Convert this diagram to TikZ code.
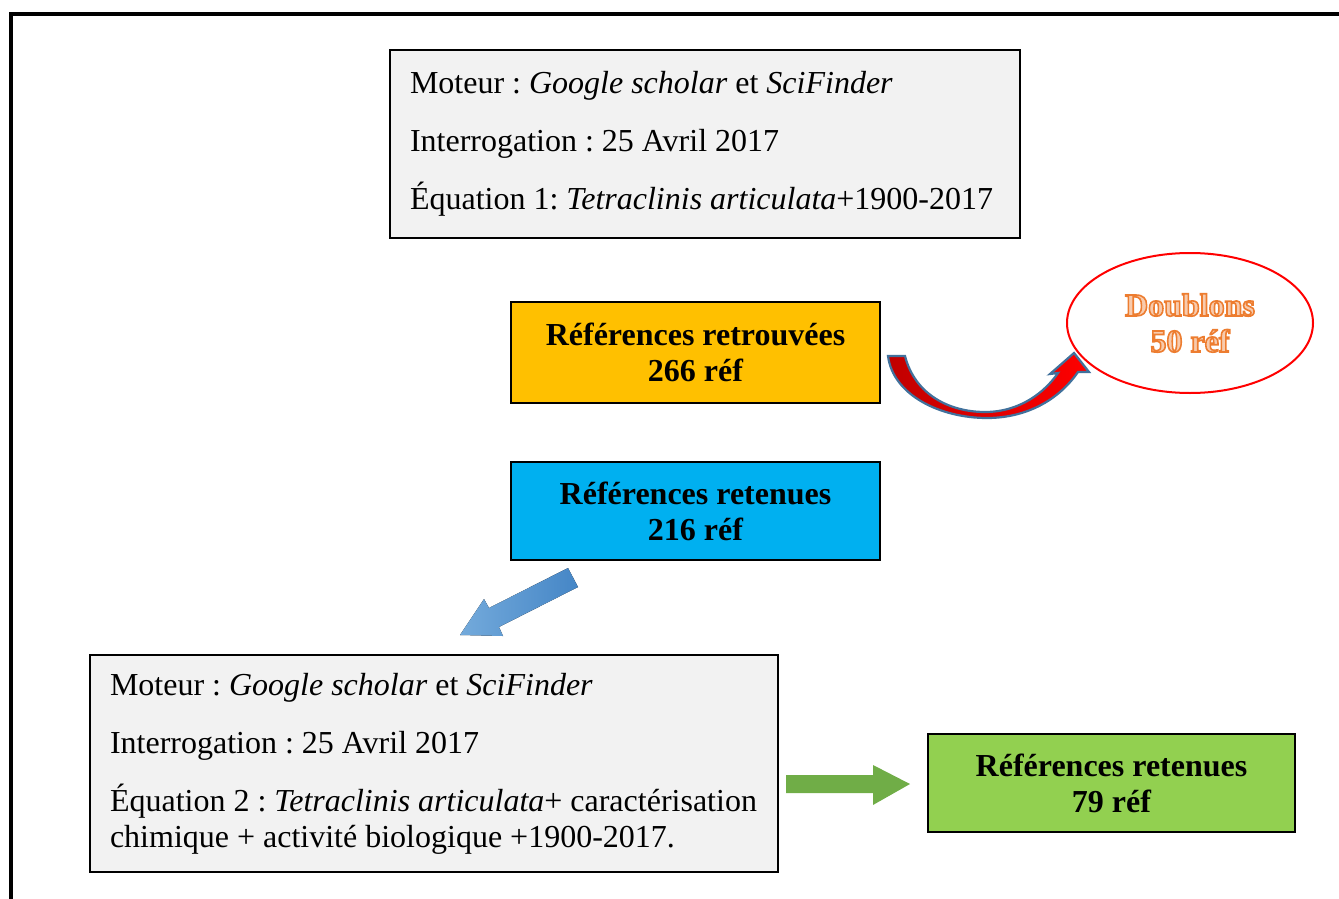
\documentclass[tikz,border=0pt]{standalone}
\usepackage{fontspec}
\setmainfont{Liberation Serif}
\usepackage{tikz}
\usetikzlibrary{shapes.geometric}

\definecolor{boxgray}{HTML}{F2F2F2}
\definecolor{refyellow}{HTML}{FFC000}
\definecolor{refblue}{HTML}{00B0F0}
\definecolor{refgreen}{HTML}{92D050}
\definecolor{arrowgreen}{HTML}{70AD47}
\definecolor{arrowblue}{HTML}{5B9BD5}
\definecolor{arrowblue2}{HTML}{4586C6}
\definecolor{arrowedge}{HTML}{41719C}
\definecolor{darkred}{HTML}{C00000}
\definecolor{doubfill}{HTML}{F8CBAD}

% texte en contour (orange)
\newcommand{\outlinetext}[1]{\color{doubfill}\special{pdf:literal direct 0.93 0.49 0.19 RG 1.6 w 2 Tr}#1\special{pdf:literal direct 0 Tr}}

\begin{document}
\begin{tikzpicture}[x=1pt,y=-1pt,
		every node/.style={font=\fontsize{32}{36}\selectfont, execute at begin node=\frenchspacing},
		infobox/.style={draw,line width=1.5pt,fill=boxgray,align=flush left,inner xsep=20pt,inner ysep=0pt},
		refbox/.style={draw,line width=1.5pt,align=center,inner sep=0pt,font=\fontsize{32}{36}\selectfont\bfseries}]
		\useasboundingbox (0,0) rectangle (1339,899);
		% cadre
		\draw [line width=4pt] (11,899) -- (11,14) -- (1339,14);
		% Equation 1
		\node [infobox, text width=590pt, minimum height=188pt] (eq1) at (705,144)
			{Moteur : \textit{Google scholar} et \textit{SciFinder}\\[22pt]
			Interrogation : 25 Avril 2017\\[22pt]
			\mbox{Équation 1: \textit{Tetraclinis articulata}+1900-2017}};
		% References
		\node [refbox, fill=refyellow, minimum width=369pt, minimum height=101pt] (trouv) at (695.5,352.5)
			{Références retrouvées\\266 réf};
		\node [refbox, fill=refblue, minimum width=369pt, minimum height=98pt] (ret1) at (695.5,511)
			{Références retenues\\216 réf};
		% Doublons
		\node [ellipse, draw=red, line width=2pt, fill=white, minimum width=246pt, minimum height=140pt,
			inner sep=0pt, align=center, font=\fontsize{32}{36}\selectfont\bfseries] (doub) at (1190,323)
			{\outlinetext{Doublons}\\\outlinetext{50 réf}};
		\draw [arrowedge, line width=2.2pt, left color=darkred, right color=red]
			(888,356) -- (905,356)
			.. controls (915,395) and (950,412) .. (985,412)
			.. controls (1020,412) and (1045,392) .. (1058,373)
			-- (1050,374) -- (1074,353) -- (1089,372) -- (1078,372)
			.. controls (1055,405) and (1020,418) .. (987,418)
			.. controls (940,418) and (893,395) .. (888,356) -- cycle;
		% fleche bleue
		\fill [left color=arrowblue!85!white, right color=arrowblue2]
			(568,568) -- (489,608) -- (484,599) -- (460,635) -- (503,636) -- (499,627) -- (578,587) -- cycle;
		% Equation 2
		\node [infobox, text width=648pt, minimum height=217pt] (eq2) at (434,763.5)
			{Moteur : \textit{Google scholar} et \textit{SciFinder}\\[22pt]
			Interrogation : 25 Avril 2017\\[22pt]
			\mbox{Équation 2 : \textit{Tetraclinis articulata}+ caractérisation}\\
			chimique + activité biologique +1900-2017.};
		% fleche verte
		\fill [arrowgreen] (786,775) -- (873,775) -- (873,765) -- (910,784) -- (873,805) -- (873,793) -- (786,793) -- cycle;
		\node [refbox, fill=refgreen, minimum width=367pt, minimum height=98pt] (ret2) at (1111.5,783)
			{Références retenues\\79 réf};
	\end{tikzpicture}
\end{document}
